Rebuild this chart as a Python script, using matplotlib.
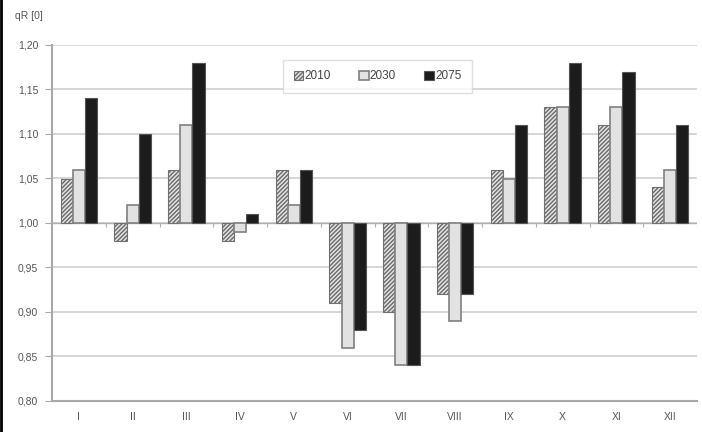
import numpy as np
import matplotlib.pyplot as plt
from matplotlib.ticker import FuncFormatter

plt.rcParams['font.family'] = ['Liberation Sans', 'DejaVu Sans']
plt.rcParams['hatch.linewidth'] = 1.1

months = ['I', 'II', 'III', 'IV', 'V', 'VI', 'VII', 'VIII', 'IX', 'X', 'XI', 'XII']
q2010 = [1.05, 0.98, 1.06, 0.98, 1.06, 0.91, 0.90, 0.92, 1.06, 1.13, 1.11, 1.04]
q2030 = [1.06, 1.02, 1.11, 0.99, 1.02, 0.86, 0.84, 0.89, 1.05, 1.13, 1.13, 1.06]
q2075 = [1.14, 1.10, 1.18, 1.01, 1.06, 0.88, 0.84, 0.92, 1.11, 1.18, 1.17, 1.11]

base = 1.0
x = np.arange(len(months))
w = 0.225

fig = plt.figure(figsize=(7.02, 4.32), dpi=100)
ax = fig.add_axes([52 / 702, 1 - 401 / 432, 645 / 702, 356 / 432])

# bars grow up or down from 1.00
ax.bar(x - w, np.array(q2010) - base, w, bottom=base, facecolor='#e8e8e8',
       edgecolor='#707070', hatch='////////', linewidth=0.8, label='2010', zorder=3)
ax.bar(x, np.array(q2030) - base, w, bottom=base, facecolor='#e2e2e2',
       edgecolor='#808080', linewidth=1.2, label='2030', zorder=3)
ax.bar(x + w, np.array(q2075) - base, w, bottom=base, facecolor='#1c1c1c',
       edgecolor='#555555', linewidth=0.8, label='2075', zorder=3)

ax.set_xlim(-0.5, len(months) - 0.5)
ax.set_ylim(0.80, 1.20)
ax.set_yticks(np.arange(0.80, 1.201, 0.05))
ax.yaxis.set_major_formatter(FuncFormatter(lambda v, p: f'{v:.2f}'.replace('.', ',')))
ax.set_xticks(x)
ax.set_xticklabels(months)
ax.grid(axis='y', color='#cfcfcf', linewidth=1.2, zorder=0)

# category axis crossing at 1,00 with its tick marks
ax.axhline(base, color='#b0b0b0', linewidth=1.0, zorder=2)
ax.vlines(np.arange(0.5, len(months) - 0.5), base - 0.004, base, color='#b0b0b0',
          linewidth=0.8, zorder=2)

for s in ['top', 'right']:
    ax.spines[s].set_visible(False)
for s in ['left', 'bottom']:
    ax.spines[s].set_color('#a8a8a8')
    ax.spines[s].set_linewidth(1.5)
ax.tick_params(axis='both', length=0, labelsize=7.5, colors='#555555', pad=8)
ax.tick_params(axis='y', length=5, color='#a8a8a8', pad=5)

leg = ax.legend(loc='upper center', bbox_to_anchor=(0.505, 0.975), ncol=3, fontsize=8.5,
                frameon=True, fancybox=False, handlelength=0.8, handleheight=0.8,
                handletextpad=0.1, columnspacing=2.4, borderpad=0.9)
leg.get_frame().set_edgecolor('#d8d8d8')
leg.get_frame().set_linewidth(1.0)
for t in leg.get_texts():
    t.set_color('#444444')

fig.text(15 / 702, 1 - 16 / 432, 'qR [0]', fontsize=7.5, color='#555555', va='center')

# thin frame on the left edge of the figure
fig.add_artist(plt.Line2D([0.002, 0.002], [0, 1], color='black', linewidth=2,
                          transform=fig.transFigure))

fig.savefig('out.png', dpi=100)
